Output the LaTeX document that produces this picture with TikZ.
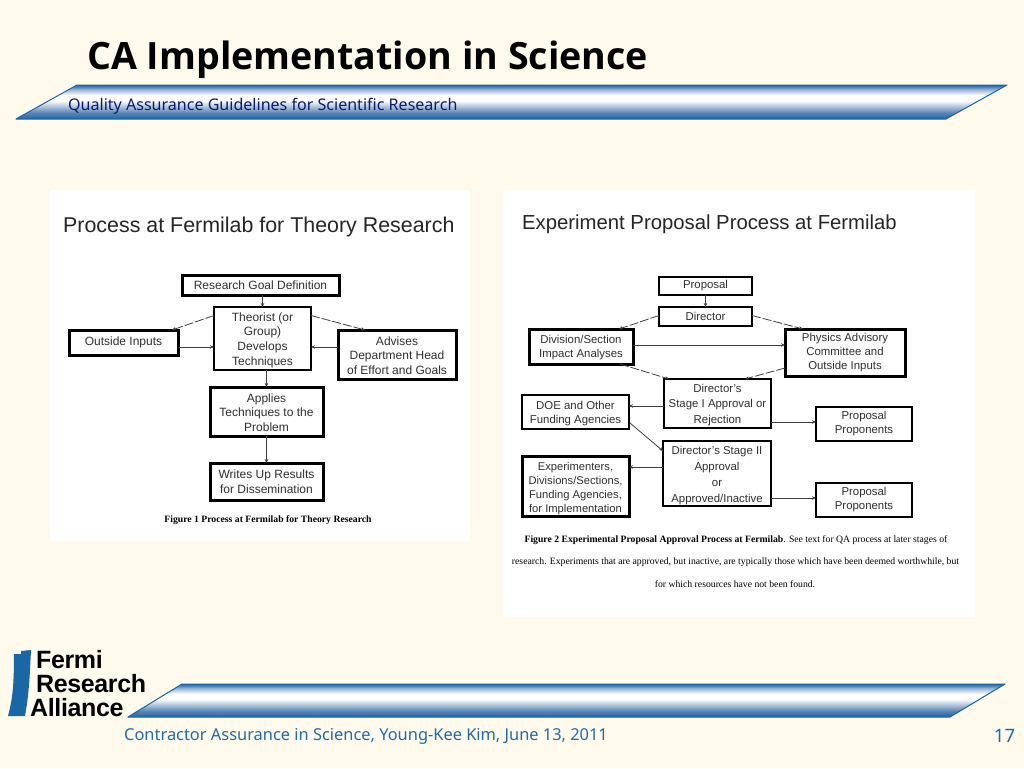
\documentclass[tikz,border=0pt]{standalone}
\usepackage{fontspec}
\setmainfont{Liberation Sans}
\newfontfamily\slidef{Noto Sans}
\newfontfamily\headf{Open Sans}
\newfontfamily\capf{Liberation Serif}
\newfontfamily\logof[LetterSpace=-1.5]{Liberation Sans}
\usetikzlibrary{arrows.meta,calc}
\definecolor{pagebg}{HTML}{FFFAEC}
\definecolor{bandblue}{HTML}{1B66A6}
\definecolor{bandlow}{HTML}{5A84B4}
\definecolor{bandhigh}{HTML}{9DB8D6}
\definecolor{subnavy}{HTML}{0B1A70}
\definecolor{footblue}{HTML}{1F6CA8}
\definecolor{boxtext}{HTML}{303030}
\definecolor{linkgray}{HTML}{404040}
\pgfdeclareverticalshading{bandshade}{100bp}{color(0bp)=(bandblue); color(25bp)=(bandblue); color(34bp)=(bandlow); color(52bp)=(white); color(60bp)=(white); color(68bp)=(bandhigh); color(75bp)=(bandblue); color(100bp)=(bandblue)}
\tikzset{
 fbox/.style={draw=black,fill=white,line width=2.1pt,inner sep=0pt,outer sep=0pt,align=center,text=boxtext,font=\fontsize{12}{14.6}\selectfont},
 rbox/.style={fbox,font=\fontsize{11.4}{14}\selectfont},
 heavy/.style={line width=3pt},
 link/.style={draw=linkgray,line width=0.8pt,-{Stealth[length=4pt,width=3.5pt]}},
 dlink/.style={link,dashed,dash pattern=on 9pt off 2pt},
 panel/.style={fill=white,draw=none},
 ptitle/.style={anchor=base west,inner sep=0pt,text=black!85},
 capt/.style={inner sep=0pt,font=\capf\fontsize{9.7}{11}\selectfont,text=black},
 band/.style={shading=bandshade,draw=bandblue,line width=1pt,line join=round},
 logotext/.style={anchor=base west,inner sep=0pt,font=\logof\bfseries\fontsize{25}{27}\selectfont},
}
\begin{document}
\begin{tikzpicture}[x=1pt,y=-1pt]
\useasboundingbox (0,0) rectangle (1024,768);
\fill[pagebg] (0,0) rectangle (1024,768);
% header and footer
\node[anchor=base west,inner sep=0pt,font=\headf\bfseries\fontsize{37.6}{42}\selectfont] (title) at (87,70) {CA Implementation in Science};
\path[band] (16,119) -- (77,85) -- (1007,85) -- (946,119) -- cycle;
\node[anchor=base west,inner sep=0pt,text=subnavy,font=\slidef\fontsize{16.05}{18}\selectfont] (sub) at (68,110.5) {Quality Assurance Guidelines for Scientific Research};
\path[band] (128,717) -- (182,684) -- (1005,684) -- (950,717) -- cycle;
\node[anchor=base west,inner sep=0pt,text=footblue,font=\slidef\fontsize{16.4}{18}\selectfont] (foot) at (124,740.5) {Contractor Assurance in Science, Young-Kee Kim, June 13, 2011};
\node[anchor=base,inner sep=0pt,text=footblue,font=\slidef\fontsize{18.5}{20}\selectfont] (pg) at (1004.5,742) {17};
% logo
\fill[bandblue] (14,654) -- (21,654) -- (21,651) -- (31,650) -- (30,670) .. controls (29,690) and (27,705) .. (25,716) -- (8,716) .. controls (12,700) and (14,690) .. (14,654) -- cycle;
\node[logotext] (lg1) at (36,668.5) {Fermi};
\node[logotext] (lg2) at (36,692.5) {Research};
\node[logotext] (lg3) at (30,716.5) {Alliance};
% panels
\fill[panel] (50,190) rectangle (470,541);
\fill[panel] (503,190) rectangle (975,617);
% left figure
\node[ptitle,font=\fontsize{21.4}{24}\selectfont] (lt) at (63,232) {Process at Fermilab for Theory Research};
\node[fbox,heavy,minimum width=157pt,minimum height=20pt] (goal) at (260.5,285) {Research Goal Definition};
\node[fbox,minimum width=97pt,minimum height=63pt] (theo) at (262.5,338.5) {\rule{0pt}{12pt}Theorist (or\\Group)\\Develops\\Techniques};
\node[fbox,heavy,minimum width=109pt,minimum height=25pt] (outs) at (123.5,342.5) {Outside Inputs};
\node[fbox,heavy,minimum width=118pt,minimum height=49pt] (adv) at (397,354.5) {\rule{0pt}{10.5pt}Advises\\Department Head\\of Effort and Goals};
\node[fbox,heavy,minimum width=113pt,minimum height=49pt] (appl) at (266.5,411.5) {\rule{0pt}{10.5pt}Applies\\Techniques to the\\Problem};
\node[fbox,heavy,minimum width=113pt,minimum height=37pt] (writ) at (266.5,481.5) {Writes Up Results\\for Dissemination};
\node[capt,font=\capf\bfseries\fontsize{9.7}{11}\selectfont] (lc) at (268,520.5) {Figure 1 Process at Fermilab for Theory Research};
\draw[link] (goal.south -| theo.north) -- (theo.north);
\draw[dlink] ($(theo.north west)+(0,8.5)$) -- ($(outs.north east)+(-6,0)$);
\draw[dlink] ($(theo.north east)+(0,8.5)$) -- ($(adv.north west)+(27,0)$);
\draw[link] (outs.east |- 0,347) -- (theo.west |- 0,347);
\draw[link] (adv.west |- 0,347) -- (theo.east |- 0,347);
\draw[link] (theo.south -| appl.north) -- (appl.north);
\draw[link] (appl.south) -- (writ.north);
% right figure
\node[ptitle,font=\fontsize{20.3}{23}\selectfont] (rt) at (522,229) {Experiment Proposal Process at Fermilab};
\node[rbox,minimum width=93pt,minimum height=18pt] (prop) at (705.5,286) {Proposal};
\node[rbox,minimum width=93pt,minimum height=19pt] (dir) at (705.5,316.5) {Director};
\node[rbox,heavy,minimum width=104pt,minimum height=35pt] (div) at (581,346.5) {\rule{0pt}{10.5pt}Division/Section\\Impact Analyses};
\node[rbox,heavy,minimum width=120pt,minimum height=47pt] (phys) at (845,352.5) {Physics Advisory\\Committee and\\Outside Inputs};
\node[rbox,font=\fontsize{11.4}{15.5}\selectfont,minimum width=107pt,minimum height=49pt] (st1) at (717.5,403.5) {\rule{0pt}{11pt}Director's\\Stage I Approval or\\Rejection};
\node[rbox,minimum width=107pt,minimum height=34pt] (doe) at (575.5,412) {\rule{0pt}{10.5pt}DOE and Other\\Funding Agencies};
\node[rbox,minimum width=96pt,minimum height=34pt] (pp1) at (864,424) {Proposal\\Proponents};
\node[rbox,font=\fontsize{11.4}{16}\selectfont,minimum width=108pt,minimum height=65pt] (st2) at (717,473.5) {\rule{0pt}{12pt}Director's Stage II\\Approval\\or\\Approved/Inactive};
\node[rbox,heavy,minimum width=107pt,minimum height=60pt,font=\fontsize{11.2}{14}\selectfont] (expt) at (575.5,486) {\rule{0pt}{13pt}Experimenters,\\Divisions/Sections,\\Funding Agencies,\\for Implementation};
\node[rbox,minimum width=96pt,minimum height=34pt] (pp2) at (864,500) {Proposal\\Proponents};
\draw[link] (prop.south) -- (dir.north);
\draw[dlink] ($(dir.north west)+(0,8.5)$) -- ($(div.north east)+(-14,0)$);
\draw[dlink] ($(dir.north east)+(0,8.5)$) -- ($(phys.north west)+(18,0)$);
\draw[link] (div.east |- 0,345) -- (phys.west |- 0,345);
\draw[dlink] ($(div.south east)+(-13,0)$) -- ($(st1.north west)+(5,0)$);
\draw[dlink] ($(phys.south west)+(0,-8)$) -- ($(st1.north east)+(-26,0)$);
\draw[link] (st1.west |- 0,406) -- (doe.east |- 0,406);
\draw[link] (st1.east |- 0,422) -- (pp1.west |- 0,422);
\draw[link] ($(doe.south east)+(1,-6)$) -- ($(st2.north west)+(0,10)$);
\draw[link] (st2.west |- 0,467) -- (expt.east |- 0,467);
\draw[link] (st2.east |- 0,498) -- (pp2.west |- 0,498);
\node[capt] (rc1) at (736,540) {\bfseries Figure 2 Experimental Proposal Approval Process at Fermilab\mdseries. See text for QA process at later stages of};
\node[capt] (rc2) at (735.5,562) {research. Experiments that are approved, but inactive, are typically those which have been deemed worthwhile, but};
\node[capt] (rc3) at (735,584) {for which resources have not been found.};
\end{tikzpicture}
\end{document}
